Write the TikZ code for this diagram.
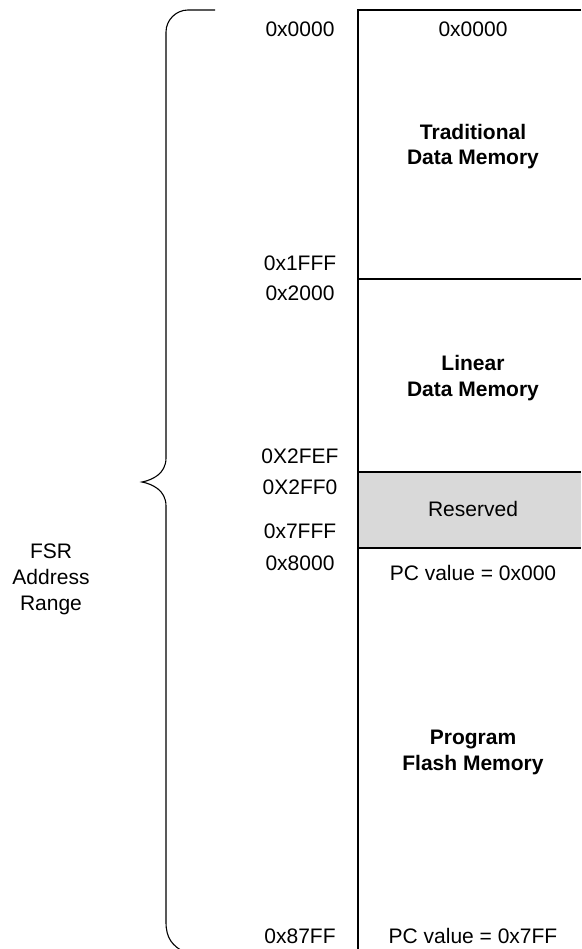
\documentclass[tikz,border=0pt]{standalone}
\usepackage{fontspec}
\setmainfont{Liberation Sans}
\definecolor{resgray}{RGB}{217,217,217}
\tikzset{
  addr/.style={anchor=base, inner sep=0pt, font=\fontsize{21}{25}\selectfont},
  region/.style={anchor=base, inner sep=0pt, font=\fontsize{21}{25}\selectfont\bfseries},
}

\begin{document}
\begin{tikzpicture}[x=1pt,y=-1pt,line width=1.2pt]
\def\xa{300} %x of the FSR address column
\def\xm{358} %left edge of the memory map
\def\xr{581} %right edge, the map runs off the page
\def\xc{473} %middle of the memory map

\useasboundingbox (0,0) rectangle (581,949);

% memory map
\fill[resgray] (\xm,472) rectangle (\xr,548);
\draw (\xr,10) -- (\xm,10) -- (\xm,949);
\draw (\xm,279) -- (\xr,279);
\draw (\xm,472) -- (\xr,472);
\draw (\xm,548) -- (\xr,548);

% brace
\draw[line width=1.1pt] (215,10) -- (188,10) .. controls (176,10) and (166,20) .. (166,32)
  -- (166,458) .. controls (166,474) and (152,480) .. (142,482)
  .. controls (152,484) and (166,490) .. (166,506)
  -- (166,922) .. controls (166,938) and (172,946) .. (186,953);

% FSR addresses
\node[addr] (a0000) at (\xa,36.5) {0x0000};
\node[addr] (a1fff) at (\xa,270.5) {0x1FFF};
\node[addr] (a2000) at (\xa,300.5) {0x2000};
\node[addr] (a2fef) at (\xa,463.5) {0X2FEF};
\node[addr] (a2ff0) at (\xa,494.5) {0X2FF0};
\node[addr] (a7fff) at (\xa,538.5) {0x7FFF};
\node[addr] (a8000) at (\xa,570.5) {0x8000};
\node[addr] (a87ff) at (\xa,943) {0x87FF};

% range label
\node[addr] (fsr1) at (51,558.5) {FSR};
\node[addr] (fsr2) at (51,584.5) {Address};
\node[addr] (fsr3) at (51,610.5) {Range};

% regions
\node[addr] (dstart) at (\xc,36.5) {0x0000};
\node[region] (trad1) at (\xc,139.5) {Traditional};
\node[region] (trad2) at (\xc,164.5) {Data Memory};
\node[region] (lin1) at (\xc,370.5) {Linear};
\node[region] (lin2) at (\xc,396.5) {Data Memory};
\node[addr] (res) at (\xc,516.5) {Reserved};
\node[addr] (pcstart) at (\xc,580.5) {PC value = 0x000};
\node[region] (prog1) at (\xc,744.5) {Program};
\node[region] (prog2) at (\xc,770.5) {Flash Memory};
\node[addr] (pcend) at (\xc,943) {PC value = 0x7FF};

\end{tikzpicture}
\end{document}
